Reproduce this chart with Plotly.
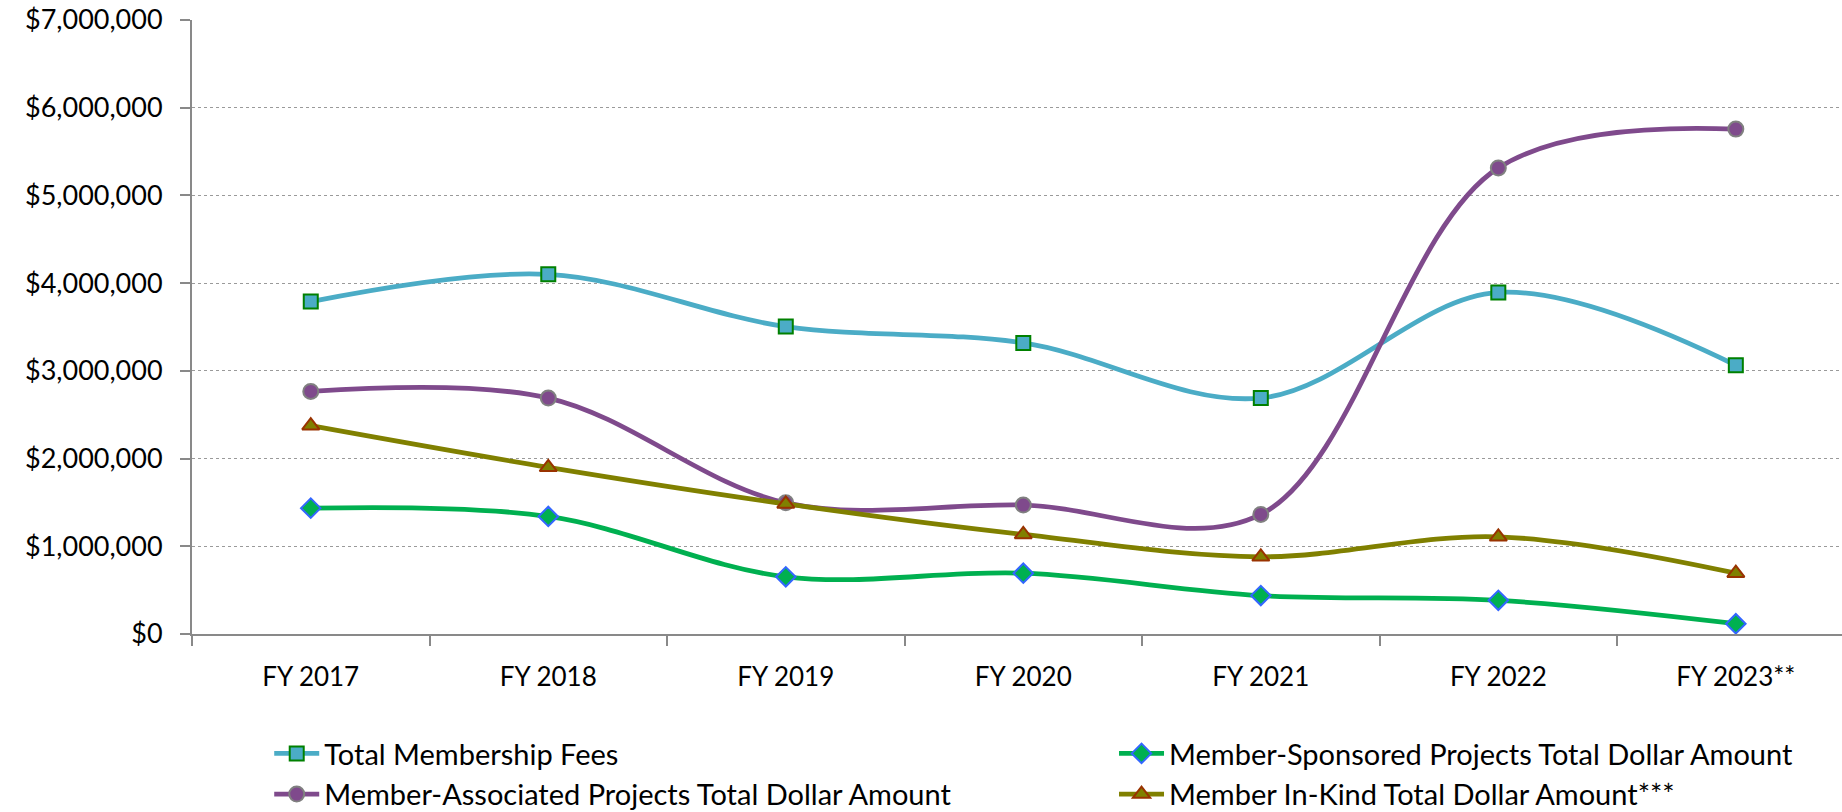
import plotly.graph_objects as go

years = ["FY 2017", "FY 2018", "FY 2019", "FY 2020", "FY 2021", "FY 2022", "FY 2023**"]

membership_fees = [3790000, 4100000, 3505000, 3318000, 2690000, 3894000, 3064000]
sponsored_projects = [1435000, 1340000, 652000, 693000, 438000, 384000, 117000]
associated_projects = [2765000, 2690000, 1496000, 1470000, 1363000, 5314000, 5756000]
in_kind = [2375000, 1900000, 1483000, 1135000, 880000, 1108000, 693000]

y_ticks = [0, 1000000, 2000000, 3000000, 4000000, 5000000, 6000000, 7000000]
y_tick_labels = ["$0", "$1,000,000", "$2,000,000", "$3,000,000", "$4,000,000",
                 "$5,000,000", "$6,000,000", "$7,000,000"]

FONT = "Lato"

series = [
    ("Total Membership Fees", membership_fees, "#4BACC6", "square", "#4BACC6", "#008000", 14, "legend"),
    ("Member-Sponsored Projects Total Dollar Amount", sponsored_projects, "#00B050", "diamond", "#00B050", "#3366FF", 15, "legend2"),
    ("Member-Associated Projects Total Dollar Amount", associated_projects, "#7F4A8C", "circle", "#7F4A8C", "#808080", 15, "legend"),
    ("Member In-Kind Total Dollar Amount***", in_kind, "#808000", "triangle-up", "#808000", "#993300", 15, "legend2"),
]

fig = go.Figure()
for name, vals, lc, sym, fc, bc, size, lg in series:
    fig.add_trace(go.Scatter(
        x=years, y=vals, name=name, mode="lines+markers", legend=lg,
        line=dict(color=lc, width=4.8, shape="spline", smoothing=1.0),
        marker=dict(symbol=sym, size=size, color=fc, line=dict(color=bc, width=2)),
    ))

legend_common = dict(
    orientation="v", xanchor="left", yanchor="top", yref="container", y=0.1034,
    font=dict(family=FONT, size=29, color="black"),
    itemwidth=45, tracegroupgap=0, bgcolor="rgba(0,0,0,0)",
)

fig.update_layout(
    width=1842, height=812,
    paper_bgcolor="white", plot_bgcolor="white",
    margin=dict(l=192, r=0, t=20, b=178, autoexpand=False),
    font=dict(family=FONT, size=26, color="black"),
    showlegend=True,
    legend=dict(x=0.0468, **legend_common),
    legend2=dict(x=0.5588, **legend_common),
)

fig.update_xaxes(
    type="category", categoryorder="array", categoryarray=years,
    range=[-0.5, 6.447], automargin=False,
    showline=True, linecolor="#898989", linewidth=2,
    ticks="outside", ticklen=10, tickcolor="#898989", tickwidth=2,
    tickson="boundaries", showgrid=False,
    tickfont=dict(family=FONT, size=26, color="black"),
    ticklabelstandoff=19, ticklabeloverflow="allow",
)
fig.update_yaxes(
    range=[0, 7000000], tickmode="array", tickvals=y_ticks, ticktext=y_tick_labels,
    automargin=False,
    showline=True, linecolor="#898989", linewidth=2,
    ticks="outside", ticklen=10, tickcolor="#898989", tickwidth=2,
    showgrid=True, gridcolor="#9A9A9A", gridwidth=1, griddash="dot",
    zeroline=False,
    tickfont=dict(family=FONT, size=27, color="black"),
    ticklabelstandoff=12, ticklabeloverflow="allow",
)

# remove the browser's default 8px body margin so the figure fills the window exactly
fig.write_html("out.html", config={"displayModeBar": False},
               post_script="document.body.style.margin='0';")
